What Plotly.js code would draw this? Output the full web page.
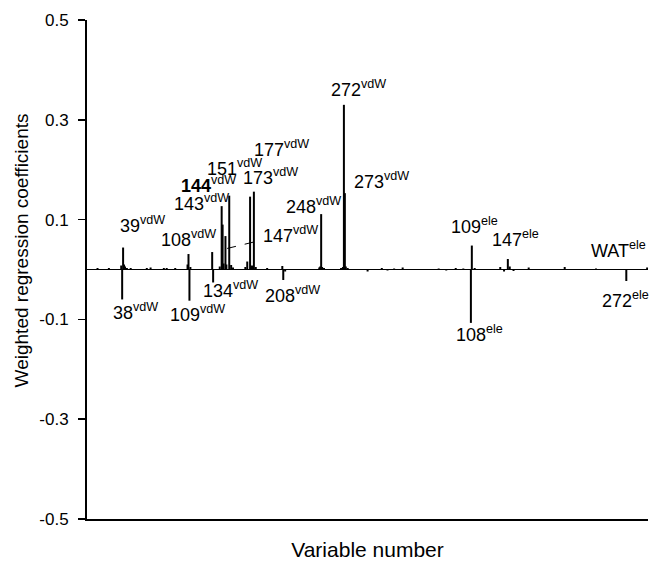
<!DOCTYPE html>
<html><head><meta charset="utf-8">
<script src="https://cdn.plot.ly/plotly-3.0.1.min.js"></script>
<style>html,body{margin:0;padding:0;background:#fff}#chart{width:650px;height:561px}</style>
</head><body><div id="chart"></div>
<script>
// Variable numbers: vdW block = residue number, ele block = 298 + residue number
const variableNumbers = [
  12, 24, 37, 38, 39, 40, 41, 43, 47, 64, 68, 82, 85, 94,
  107, 108, 109, 110, 133, 134,
  141, 143, 144, 145, 147, 148, 151, 153, 155,
  168, 170, 173, 175, 177, 179, 191,
  207, 208, 210, 246, 247, 248, 249, 251,
  269, 271, 272, 273, 274, 276, 297,
  312, 318, 325, 334, 372, 380, 390, 398, 406, 407, 410,
  437, 441, 445, 447, 451, 467, 505, 538, 570, 592
];
const coefficients = [
  0.003, 0.003, 0.008, -0.060, 0.044, 0.010, 0.006, 0.003, 0.003, 0.003, 0.004, 0.003, 0.003, 0.003,
  0.010, 0.031, -0.0625, 0.005, 0.035, -0.026,
  0.006, 0.127, 0.090, 0.012, 0.067, 0.010, 0.148, 0.009, 0.004,
  0.005, 0.016, 0.146, 0.008, 0.156, 0.005, 0.003,
  0.007, -0.021, -0.004, 0.004, 0.006, 0.111, 0.005, 0.003,
  0.003, 0.005, 0.330, 0.153, 0.006, 0.003, -0.004,
  0.003, -0.002, 0.002, 0.004, 0.002, -0.002, 0.003, 0.002, -0.107, 0.048, 0.003,
  0.005, -0.004, 0.021, 0.006, -0.003, 0.004, 0.005, 0.002, -0.023, 0.004
];
const labelTexts = [
  "39<sup>vdW</sup>", "108<sup>vdW</sup>", "143<sup>vdW</sup>", "<b>144</b><sup>vdW</sup>",
  "151<sup>vdW</sup>", "173<sup>vdW</sup>", "177<sup>vdW</sup>", "147<sup>vdW</sup>",
  "272<sup>vdW</sup>", "273<sup>vdW</sup>", "248<sup>vdW</sup>",
  "38<sup>vdW</sup>", "109<sup>vdW</sup>", "134<sup>vdW</sup>", "208<sup>vdW</sup>",
  "109<sup>ele</sup>", "147<sup>ele</sup>", "WAT<sup>ele</sup>", "108<sup>ele</sup>", "272<sup>ele</sup>"
];
const yTicks = [-0.5, -0.3, -0.1, 0.1, 0.3, 0.5];
const yTickText = ["-0.5", "-0.3", "-0.1", "0.1", "0.3", "0.5"];

// label placement (left edge in variable units, bottom in coefficient units)
const labelPos = [
  [34.5, 0.0651], [78.4, 0.0365], [91.8, 0.1092], [99.5, 0.1447],
  [126.5, 0.180], [164.6, 0.1613], [176.2, 0.218], [185.7, 0.0451],
  [257.4, 0.3383], [282.0, 0.1527], [210.0, 0.1032],
  [27.5, -0.1092], [87.3, -0.1126], [122.4, -0.0657], [187.5, -0.0758],
  [384.0, 0.0631], [426.9, 0.0377], [532.0, 0.0144], [389.3, -0.1527], [543.5, -0.0858]
];

const xs = [], ys = [];
variableNumbers.forEach((v, i) => { xs.push(v, v, null); ys.push(0, coefficients[i], null); });

const trace = {
  type: 'scatter', mode: 'lines', x: xs, y: ys,
  line: {color: '#000', width: 2}, hoverinfo: 'skip', showlegend: false, connectgaps: false
};

const FONT = 'Liberation Sans, Arial, sans-serif';
const annotations = labelTexts.map((t, i) => ({
  x: labelPos[i][0], y: labelPos[i][1], xref: 'x', yref: 'y',
  text: t, showarrow: false, xanchor: 'left', yanchor: 'bottom', borderpad: 0,
  font: {family: FONT, size: 18, color: '#000'}
}));
annotations.push({
  xref: 'paper', yref: 'paper', x: -0.117, y: 0.539, textangle: -90,
  text: 'Weighted regression coefficients', showarrow: false,
  xanchor: 'center', yanchor: 'middle', font: {family: FONT, size: 19, color: '#000'}
});

// dashed leader from the 147vdW bar to its label
const leaderIdx = variableNumbers.indexOf(147);
const shapes = [{
  type: 'line', xref: 'x', yref: 'y',
  x0: variableNumbers[leaderIdx] + 1.8, y0: coefficients[leaderIdx] * 0.63,
  x1: labelPos[7][0], y1: labelPos[7][1] + 0.014,
  line: {color: '#000', width: 1, dash: 'dash'}
}];

const layout = {
  width: 650, height: 561,
  margin: {l: 87, r: 2, t: 20, b: 42},
  paper_bgcolor: '#fff', plot_bgcolor: '#fff',
  font: {family: FONT, color: '#000'},
  showlegend: false,
  xaxis: {
    range: [0.9, 592.9], showticklabels: false, ticks: '', showgrid: false, zeroline: false,
    showline: true, linecolor: '#000', linewidth: 2,
    title: {text: 'Variable number', font: {family: FONT, size: 21, color: '#000'}, standoff: 24}
  },
  yaxis: {
    range: [-0.5, 0.5], tickvals: yTicks, ticktext: yTickText, ticks: 'outside', ticklen: 7,
    tickwidth: 1.5, tickcolor: '#000', showgrid: false,
    zeroline: true, zerolinecolor: '#000', zerolinewidth: 1.5,
    showline: true, linecolor: '#000', linewidth: 2,
    tickfont: {family: FONT, size: 17, color: '#000'}, ticklabelstandoff: 6
  },
  annotations: annotations,
  shapes: shapes
};

Plotly.newPlot('chart', [trace], layout, {displayModeBar: false, staticPlot: true});
</script>
</body></html>
